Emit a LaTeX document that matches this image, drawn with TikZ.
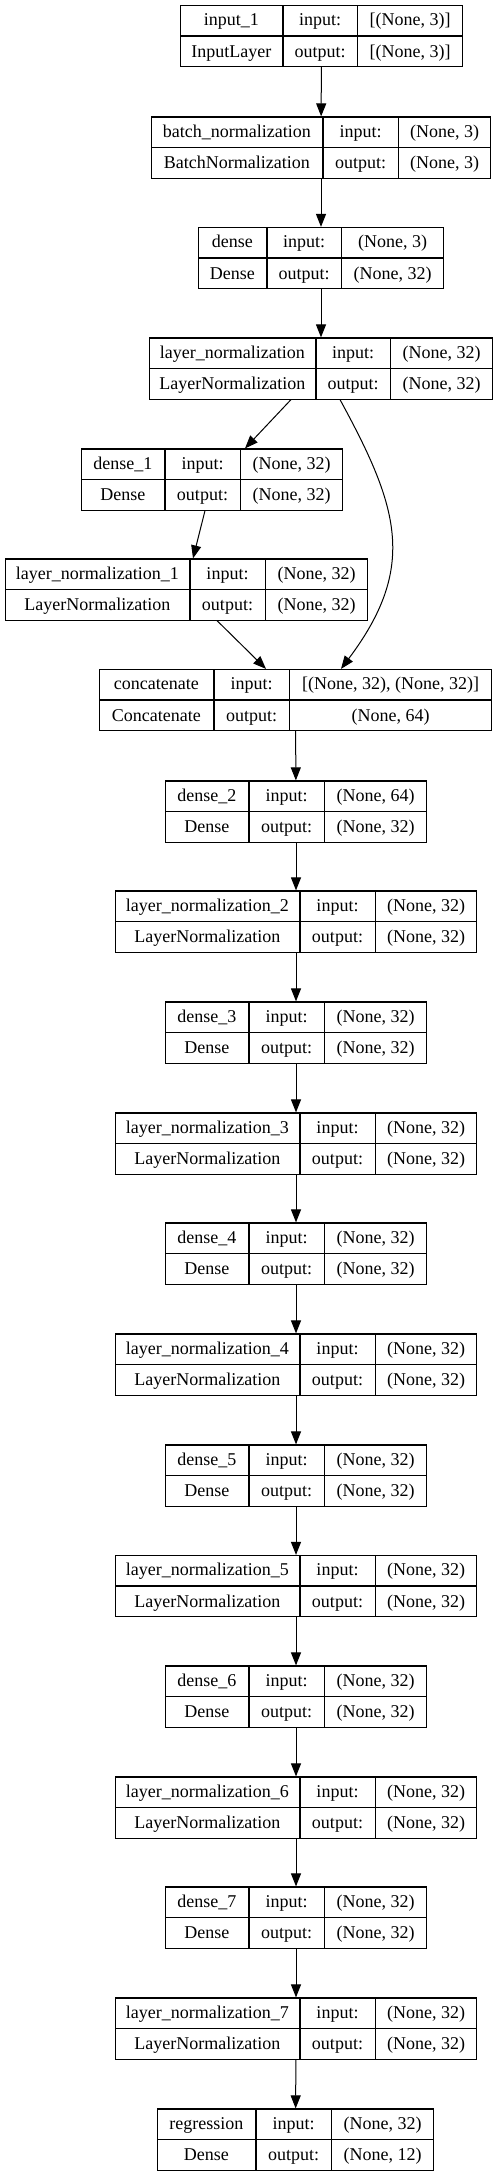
\documentclass[tikz,border=0pt]{standalone}
\usepackage{fontspec}
\setmainfont{Liberation Serif}
\usepackage{array}
\usepackage{tikz}
\usetikzlibrary{arrows.meta}
\newcolumntype{C}[1]{>{\centering\arraybackslash}p{#1}}
\setlength{\tabcolsep}{0pt}
\setlength{\arrayrulewidth}{1.1pt}
\newcommand{\rowstrut}{\rule[-9.5pt]{0pt}{30pt}}
\newcommand{\layertab}[7]{%
    \begin{tabular}{@{}C{#1}|C{#2}|C{#3}@{}}
        \rowstrut #4 & input: & #6 \\ \hline
        \rowstrut #5 & output: & #7
    \end{tabular}}
\tikzstyle{layerbox} = [draw=black, line width=1.1pt, rectangle, inner sep=0pt, font=\fontsize{18}{20}\selectfont]
\tikzstyle{flow} = [line width=1pt, -{Triangle[length=13pt,width=10pt]}]

\begin{document}
\begin{tikzpicture}[x=1pt,y=1pt]
    \useasboundingbox (0,0) rectangle (499,-2176);
    % top of the net
    \node [layerbox] (in1) at (321.5,-36) {\layertab{102pt}{73pt}{105pt}{input\_1}{InputLayer}{[(None, 3)]}{[(None, 3)]}};
    \node [layerbox] (bn) at (321,-147.5) {\layertab{171pt}{74pt}{92pt}{batch\_normalization}{BatchNormalization}{(None, 3)}{(None, 3)}};
    \node [layerbox] (d0) at (321,-258) {\layertab{68pt}{73pt}{102pt}{dense}{Dense}{(None, 3)}{(None, 32)}};
    \node [layerbox] (ln0) at (321,-368.5) {\layertab{166pt}{73pt}{102pt}{layer\_normalization}{LayerNormalization}{(None, 32)}{(None, 32)}};
    % side branch
    \node [layerbox] (d1) at (212,-479.5) {\layertab{83pt}{74pt}{102pt}{dense\_1}{Dense}{(None, 32)}{(None, 32)}};
    \node [layerbox] (ln1) at (186.5,-589.5) {\layertab{184pt}{74pt}{102pt}{layer\_normalization\_1}{LayerNormalization}{(None, 32)}{(None, 32)}};
    \node [layerbox] (cat) at (295.5,-700) {\layertab{114pt}{74pt}{202pt}{concatenate}{Concatenate}{[(None, 32), (None, 32)]}{(None, 64)}};
    % main chain
    \node [layerbox] (d2) at (296,-811.5) {\layertab{83pt}{74pt}{102pt}{dense\_2}{Dense}{(None, 64)}{(None, 32)}};
    \node [layerbox] (ln2) at (296,-921.5) {\layertab{184pt}{74pt}{101pt}{layer\_normalization\_2}{LayerNormalization}{(None, 32)}{(None, 32)}};
    \node [layerbox] (d3) at (296,-1032.5) {\layertab{83pt}{74pt}{102pt}{dense\_3}{Dense}{(None, 32)}{(None, 32)}};
    \node [layerbox] (ln3) at (296,-1143.5) {\layertab{184pt}{74pt}{101pt}{layer\_normalization\_3}{LayerNormalization}{(None, 32)}{(None, 32)}};
    \node [layerbox] (d4) at (296,-1253.5) {\layertab{83pt}{74pt}{102pt}{dense\_4}{Dense}{(None, 32)}{(None, 32)}};
    \node [layerbox] (ln4) at (296,-1364.5) {\layertab{184pt}{74pt}{101pt}{layer\_normalization\_4}{LayerNormalization}{(None, 32)}{(None, 32)}};
    \node [layerbox] (d5) at (296,-1475.5) {\layertab{83pt}{74pt}{102pt}{dense\_5}{Dense}{(None, 32)}{(None, 32)}};
    \node [layerbox] (ln5) at (296,-1586) {\layertab{184pt}{74pt}{101pt}{layer\_normalization\_5}{LayerNormalization}{(None, 32)}{(None, 32)}};
    \node [layerbox] (d6) at (296,-1696.5) {\layertab{83pt}{74pt}{102pt}{dense\_6}{Dense}{(None, 32)}{(None, 32)}};
    \node [layerbox] (ln6) at (296,-1807.5) {\layertab{184pt}{74pt}{101pt}{layer\_normalization\_6}{LayerNormalization}{(None, 32)}{(None, 32)}};
    \node [layerbox] (d7) at (296,-1917.5) {\layertab{83pt}{74pt}{102pt}{dense\_7}{Dense}{(None, 32)}{(None, 32)}};
    \node [layerbox] (ln7) at (296,-2028.5) {\layertab{184pt}{74pt}{101pt}{layer\_normalization\_7}{LayerNormalization}{(None, 32)}{(None, 32)}};
    \node [layerbox] (reg) at (295.5,-2139.5) {\layertab{98pt}{74pt}{102pt}{regression}{Dense}{(None, 32)}{(None, 12)}};
    % edges
    \draw [flow] (in1) -- (bn);
    \draw [flow] (bn) -- (d0);
    \draw [flow] (d0) -- (ln0);
    \draw [flow] ([xshift=-30pt]ln0.south) -- ([xshift=33pt]d1.north);
    \draw [flow] ([xshift=-7pt]d1.south) -- ([xshift=6.5pt]ln1.north);
    \draw [flow] ([xshift=30.5pt]ln1.south) -- ([xshift=-29.5pt]cat.north);
    \draw [flow] ([xshift=19pt]ln0.south) .. controls (398.5,-507) and (417.8,-566.6) .. ([xshift=45.5pt]cat.north);
    \draw [flow] (cat) -- (d2);
    \draw [flow] (d2) -- (ln2);
    \draw [flow] (ln2) -- (d3);
    \draw [flow] (d3) -- (ln3);
    \draw [flow] (ln3) -- (d4);
    \draw [flow] (d4) -- (ln4);
    \draw [flow] (ln4) -- (d5);
    \draw [flow] (d5) -- (ln5);
    \draw [flow] (ln5) -- (d6);
    \draw [flow] (d6) -- (ln6);
    \draw [flow] (ln6) -- (d7);
    \draw [flow] (d7) -- (ln7);
    \draw [flow] (ln7) -- (reg);
\end{tikzpicture}
\end{document}
